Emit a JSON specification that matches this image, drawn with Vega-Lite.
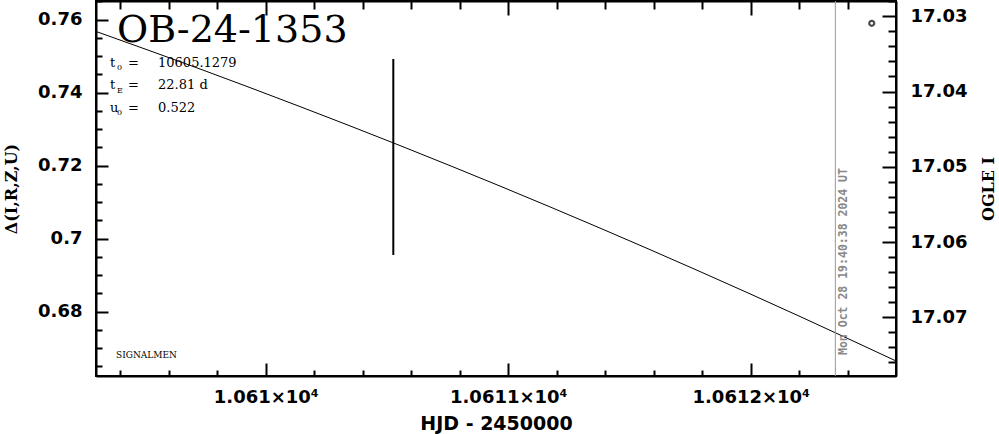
{
  "$schema": "https://vega.github.io/schema/vega-lite/v6.json",
  "width": 800,
  "height": 375,
  "autosize": {"type": "none"},
  "padding": {"left": 96, "top": 1, "right": 103, "bottom": 58},
  "background": "white",
  "config": {
    "view": {"stroke": "black", "strokeWidth": 2},
    "axis": {"grid": false, "domainColor": "black", "domainWidth": 2, "tickColor": "black", "tickWidth": 2, "labelColor": "black", "titleColor": "black"}
  },
  "datasets": {
    "model": [
      {"hjd": 10609.3002, "delta": 0.75677},
      {"hjd": 10609.7291, "delta": 0.74649},
      {"hjd": 10610.1414, "delta": 0.73619},
      {"hjd": 10610.5538, "delta": 0.72551},
      {"hjd": 10610.9662, "delta": 0.71441},
      {"hjd": 10611.3786, "delta": 0.70290},
      {"hjd": 10611.7909, "delta": 0.69099},
      {"hjd": 10612.2033, "delta": 0.67868},
      {"hjd": 10612.5992, "delta": 0.66649}
    ],
    "obs": [{"hjd": 10610.526, "delta": 0.69553, "hi": 0.74923}],
    "now": [{"hjd": 10612.3489}],
    "nowtext": [{"hjd": 10612.383, "delta": 0.66814, "text": "Mon Oct 28 19:40:38 2024 UT"}],
    "title": [{"hjd": 10609.3868, "delta": 0.75389, "text": "OB-24-1353"}],
    "params": [
      {"hjd": 10609.3579, "delta": 0.74704, "text": "t"},
      {"hjd": 10609.4322, "delta": 0.74704, "text": "="},
      {"hjd": 10609.5559, "delta": 0.74704, "text": "10605.1279"},
      {"hjd": 10609.3579, "delta": 0.74088, "text": "t"},
      {"hjd": 10609.4322, "delta": 0.74088, "text": "="},
      {"hjd": 10609.5559, "delta": 0.74088, "text": "22.81  d"},
      {"hjd": 10609.3579, "delta": 0.73471, "text": "u"},
      {"hjd": 10609.4322, "delta": 0.73471, "text": "="},
      {"hjd": 10609.5559, "delta": 0.73471, "text": "0.522"}
    ],
    "subs": [
      {"hjd": 10609.3868, "delta": 0.74622, "text": "0"},
      {"hjd": 10609.3868, "delta": 0.74005, "text": "E"},
      {"hjd": 10609.3868, "delta": 0.73389, "text": "0"}
    ],
    "signal": [{"hjd": 10609.3827, "delta": 0.66732, "text": "SIGNALMEN"}],
    "ogle": [{"hjd": 10612.499, "mag": 17.03093}]
  },
  "resolve": {"scale": {"y": "independent"}, "axis": {"x": "independent", "y": "independent"}},
  "layer": [
    {
      "data": {"name": "model"},
      "mark": {"type": "line", "color": "black", "strokeWidth": 1, "interpolate": "monotone"},
      "encoding": {
        "x": {"field": "hjd", "type": "quantitative", "scale": {"domain": [10609.3, 10612.599], "nice": false, "zero": false},
          "axis": {"orient": "bottom", "title": "HJD - 2450000",
            "values": [10609.4, 10609.6, 10609.8, 10610, 10610.2, 10610.4, 10610.6, 10610.8, 10611, 10611.2, 10611.4, 10611.6, 10611.8, 10612, 10612.2, 10612.4],
            "labelExpr": "abs(datum.value-round(datum.value))<1e-6 ? format(datum.value/10000,'.5~f') + '×10⁴' : ''",
            "tickSize": {"condition": {"test": "abs(datum.value-round(datum.value))<1e-6", "value": -13}, "value": -6},
            "labelPadding": 25, "labelFont": "DejaVu Sans", "labelFontSize": 18, "labelFontWeight": "bold", "labelOverlap": false, "labelFlush": false,
            "titleFont": "DejaVu Sans", "titleFontSize": 19, "titleFontWeight": "bold", "titlePadding": 1}},
        "y": {"field": "delta", "type": "quantitative", "scale": {"domain": [0.66238, 0.76512], "nice": false, "zero": false},
          "axis": {"orient": "left", "title": "Δ(I,R,Z,U)",
            "values": [0.665, 0.67, 0.675, 0.68, 0.685, 0.69, 0.695, 0.7, 0.705, 0.71, 0.715, 0.72, 0.725, 0.73, 0.735, 0.74, 0.745, 0.75, 0.755, 0.76, 0.765],
            "labelExpr": "abs(datum.value*50-round(datum.value*50))<1e-6 ? format(datum.value,'.2~f') : ''",
            "tickSize": {"condition": {"test": "abs(datum.value*50-round(datum.value*50))<1e-6", "value": -12}, "value": -6},
            "labelPadding": 26, "labelFont": "DejaVu Sans", "labelFontSize": 18, "labelFontWeight": "bold", "labelOverlap": false, "labelFlush": false,
            "titleFont": "DejaVu Serif", "titleFontSize": 16, "titleFontWeight": "bold", "titlePadding": 18}}
      }
    },
    {
      "data": {"name": "obs"},
      "mark": {"type": "rule", "color": "black", "strokeWidth": 2},
      "encoding": {
        "x": {"field": "hjd", "type": "quantitative", "scale": {"domain": [10609.3, 10612.599], "nice": false, "zero": false}, "axis": null},
        "y": {"field": "delta", "type": "quantitative", "scale": {"domain": [0.66238, 0.76512], "nice": false, "zero": false}, "axis": null},
        "y2": {"field": "hi"}
      }
    },
    {
      "data": {"name": "now"},
      "mark": {"type": "rule", "color": "#999999", "strokeWidth": 1},
      "encoding": {
        "x": {"field": "hjd", "type": "quantitative", "scale": {"domain": [10609.3, 10612.599], "nice": false, "zero": false}, "axis": null}
      }
    },
    {
      "data": {"name": "nowtext"},
      "mark": {"type": "text", "color": "#888888", "font": "DejaVu Sans Mono", "fontWeight": "bold", "fontSize": 11.5, "angle": 270, "align": "left", "baseline": "middle"},
      "encoding": {
        "x": {"field": "hjd", "type": "quantitative", "scale": {"domain": [10609.3, 10612.599], "nice": false, "zero": false}, "axis": null},
        "y": {"field": "delta", "type": "quantitative", "scale": {"domain": [0.66238, 0.76512], "nice": false, "zero": false}, "axis": null},
        "text": {"field": "text"}
      }
    },
    {
      "data": {"name": "title"},
      "mark": {"type": "text", "color": "black", "font": "DejaVu Serif", "fontSize": 38, "align": "left", "baseline": "alphabetic"},
      "encoding": {
        "x": {"field": "hjd", "type": "quantitative", "scale": {"domain": [10609.3, 10612.599], "nice": false, "zero": false}, "axis": null},
        "y": {"field": "delta", "type": "quantitative", "scale": {"domain": [0.66238, 0.76512], "nice": false, "zero": false}, "axis": null},
        "text": {"field": "text"}
      }
    },
    {
      "data": {"name": "params"},
      "mark": {"type": "text", "color": "black", "font": "DejaVu Serif", "fontSize": 13, "align": "left", "baseline": "alphabetic"},
      "encoding": {
        "x": {"field": "hjd", "type": "quantitative", "scale": {"domain": [10609.3, 10612.599], "nice": false, "zero": false}, "axis": null},
        "y": {"field": "delta", "type": "quantitative", "scale": {"domain": [0.66238, 0.76512], "nice": false, "zero": false}, "axis": null},
        "text": {"field": "text"}
      }
    },
    {
      "data": {"name": "subs"},
      "mark": {"type": "text", "color": "black", "font": "DejaVu Serif", "fontSize": 8, "align": "left", "baseline": "alphabetic"},
      "encoding": {
        "x": {"field": "hjd", "type": "quantitative", "scale": {"domain": [10609.3, 10612.599], "nice": false, "zero": false}, "axis": null},
        "y": {"field": "delta", "type": "quantitative", "scale": {"domain": [0.66238, 0.76512], "nice": false, "zero": false}, "axis": null},
        "text": {"field": "text"}
      }
    },
    {
      "data": {"name": "signal"},
      "mark": {"type": "text", "color": "black", "font": "DejaVu Serif", "fontSize": 9, "align": "left", "baseline": "alphabetic"},
      "encoding": {
        "x": {"field": "hjd", "type": "quantitative", "scale": {"domain": [10609.3, 10612.599], "nice": false, "zero": false}, "axis": null},
        "y": {"field": "delta", "type": "quantitative", "scale": {"domain": [0.66238, 0.76512], "nice": false, "zero": false}, "axis": null},
        "text": {"field": "text"}
      }
    },
    {
      "data": {"name": "ogle"},
      "mark": {"type": "point", "shape": "circle", "filled": false, "color": "black", "size": 25, "strokeWidth": 2.2},
      "encoding": {
        "x": {"field": "hjd", "type": "quantitative", "scale": {"domain": [10609.3, 10612.599], "nice": false, "zero": false},
          "axis": {"orient": "top", "title": null, "labels": false,
            "values": [10609.4, 10609.6, 10609.8, 10610, 10610.2, 10610.4, 10610.6, 10610.8, 10611, 10611.2, 10611.4, 10611.6, 10611.8, 10612, 10612.2, 10612.4],
            "tickSize": {"condition": {"test": "abs(datum.value-round(datum.value))<1e-6", "value": -14}, "value": -8}}},
        "y": {"field": "mag", "type": "quantitative", "scale": {"domain": [17.02797, 17.0778], "nice": false, "zero": false, "reverse": true},
          "axis": {"orient": "right", "title": "OGLE I", "titleAngle": 270,
            "values": [17.028, 17.03, 17.032, 17.034, 17.036, 17.038, 17.04, 17.042, 17.044, 17.046, 17.048, 17.05, 17.052, 17.054, 17.056, 17.058, 17.06, 17.062, 17.064, 17.066, 17.068, 17.07, 17.072, 17.074, 17.076],
            "labelExpr": "abs(datum.value*100-round(datum.value*100))<1e-6 ? format(datum.value,'.2f') : ''",
            "tickSize": {"condition": {"test": "abs(datum.value*100-round(datum.value*100))<1e-6", "value": -14}, "value": -8},
            "labelPadding": 28, "labelFont": "DejaVu Sans", "labelFontSize": 18, "labelFontWeight": "bold", "labelOverlap": false, "labelFlush": false,
            "titleFont": "DejaVu Serif", "titleFontSize": 16, "titleFontWeight": "bold", "titlePadding": 30}}
      }
    }
  ]
}
